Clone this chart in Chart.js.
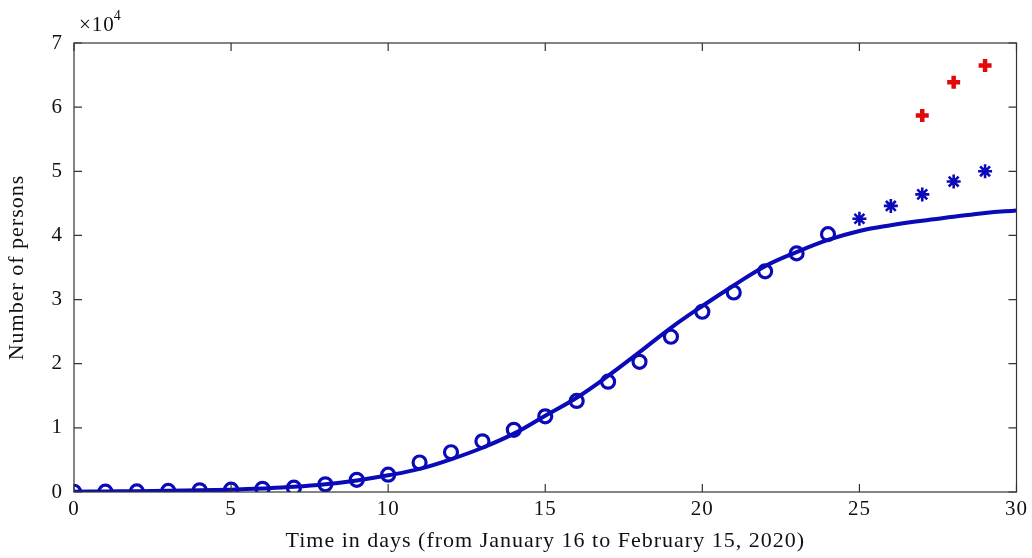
<!DOCTYPE html>
<html>
<head>
<meta charset="utf-8">
<script src="https://cdn.jsdelivr.net/npm/chart.js@4.4.1/dist/chart.umd.min.js"></script>
<style>
  html, body { margin: 0; padding: 0; background: #fff; }
  #wrap { width: 1032px; height: 558px; }
</style>
</head>
<body>
<div id="wrap"><canvas id="fitChart"></canvas></div>
<script>
// days 0..24 reported cases (x10^4)
const obsDays = [0,1,2,3,4,5,6,7,8,9,10,11,12,13,14,15,16,17,18,19,20,21,22,23,24];
const obsValues = [0.004,0.005,0.01,0.016,0.026,0.036,0.05,0.067,0.12,0.19,0.27,0.46,0.62,0.79,0.97,1.18,1.42,1.72,2.03,2.42,2.81,3.11,3.44,3.72,4.02];

// later days (stars)
const starDays = [25,26,27,28,29];
const starValues = [4.26,4.46,4.64,4.84,5.00];

// red plus markers
const plusDays = [27,28,29];
const plusValues = [5.87,6.39,6.65];

// fitted curve
const fitDays = [0,1,2,3,4,5,6,7,8,9,10,11,12,13,14,15,16,17,18,19,20,21,22,23,24,25,26,27,28,29,30];
const fitValues = [0.005,0.008,0.012,0.018,0.026,0.037,0.055,0.08,0.12,0.18,0.26,0.36,0.51,0.69,0.91,1.19,1.47,1.81,2.18,2.56,2.90,3.22,3.52,3.74,3.93,4.07,4.16,4.23,4.29,4.35,4.39];

const xTicks = [0,5,10,15,20,25,30];
const yTicks = [0,1,2,3,4,5,6,7];

const BLUE = 'rgb(10,10,185)';
const RED = 'rgb(225,10,10)';
const FONT = '"Liberation Serif", "Times New Roman", serif';

function pts(xs, ys) {
  return xs.map((x, i) => ({ x: x, y: ys[i] }));
}

// wider text like the original
const spacingPlugin = {
  id: 'spacing',
  beforeInit(chart) { chart.ctx.letterSpacing = '1px'; },
  beforeDraw(chart) { chart.ctx.letterSpacing = '1px'; }
};

// MATLAB style box with inward ticks
const boxPlugin = {
  id: 'box',
  afterDraw(chart) {
    const ctx = chart.ctx;
    const a = chart.chartArea;
    const xs = chart.scales.x, ys = chart.scales.y;
    ctx.save();
    ctx.strokeStyle = '#333';
    ctx.lineWidth = 1.2;
    ctx.strokeRect(a.left, a.top, a.right - a.left, a.bottom - a.top);
    const len = 8;
    ctx.beginPath();
    xTicks.forEach(v => {
      const px = xs.getPixelForValue(v);
      ctx.moveTo(px, a.bottom); ctx.lineTo(px, a.bottom - len);
      ctx.moveTo(px, a.top); ctx.lineTo(px, a.top + len);
    });
    yTicks.forEach(v => {
      const py = ys.getPixelForValue(v);
      ctx.moveTo(a.left, py); ctx.lineTo(a.left + len, py);
      ctx.moveTo(a.right, py); ctx.lineTo(a.right - len, py);
    });
    ctx.stroke();
    // exponent label
    ctx.fillStyle = '#111';
    ctx.font = '21px ' + FONT;
    ctx.textBaseline = 'alphabetic';
    ctx.fillText('\u00d710', a.left + 5, a.top - 12);
    const w = ctx.measureText('\u00d710').width;
    ctx.font = '14px ' + FONT;
    ctx.fillText('4', a.left + 4 + w, a.top - 23);
    ctx.restore();
  }
};

new Chart(document.getElementById('fitChart'), {
  type: 'scatter',
  data: {
    datasets: [
      {
        data: pts(fitDays, fitValues),
        showLine: true,
        borderColor: BLUE,
        borderWidth: 4,
        pointRadius: 0,
        tension: 0.4,
        order: 2
      },
      {
        data: pts(obsDays, obsValues),
        pointStyle: 'circle',
        pointRadius: 6.5,
        borderColor: BLUE,
        backgroundColor: 'rgba(255,255,255,0)',
        borderWidth: 3.2,
        order: 1
      },
      {
        data: pts(starDays, starValues),
        pointStyle: 'star',
        pointRadius: 7,
        borderColor: BLUE,
        backgroundColor: BLUE,
        borderWidth: 2.6,
        order: 1
      },
      {
        data: pts(plusDays, plusValues),
        pointStyle: 'cross',
        pointRadius: 6.5,
        borderColor: RED,
        backgroundColor: RED,
        borderWidth: 4.5,
        order: 1
      }
    ]
  },
  options: {
    responsive: true,
    maintainAspectRatio: false,
    animation: false,
    layout: { padding: { top: 43, right: 10, left: 0, bottom: 0 } },
    plugins: {
      legend: { display: false },
      tooltip: { enabled: false }
    },
    scales: {
      x: {
        type: 'linear',
        min: 0,
        max: 30,
        afterBuildTicks(scale) { scale.ticks = xTicks.map(v => ({ value: v })); },
        afterFit(scale) { scale.height = 66; },
        grid: { display: false, drawTicks: false },
        border: { display: false },
        ticks: { color: '#111', font: { family: FONT, size: 21 }, padding: 5 },
        title: {
          display: true,
          text: 'Time in days (from January 16 to February 15, 2020)',
          color: '#111',
          font: { family: FONT, size: 22 },
          padding: { top: 2 }
        }
      },
      y: {
        type: 'linear',
        min: 0,
        max: 7,
        afterBuildTicks(scale) { scale.ticks = yTicks.map(v => ({ value: v })); },
        afterFit(scale) { scale.width = 74; },
        grid: { display: false, drawTicks: false },
        border: { display: false },
        ticks: { color: '#111', font: { family: FONT, size: 21 }, padding: 11 },
        title: {
          display: true,
          text: 'Number of persons',
          color: '#111',
          font: { family: FONT, size: 22 },
          padding: { bottom: 10 }
        }
      }
    }
  },
  plugins: [spacingPlugin, boxPlugin]
});
</script>
</body>
</html>
